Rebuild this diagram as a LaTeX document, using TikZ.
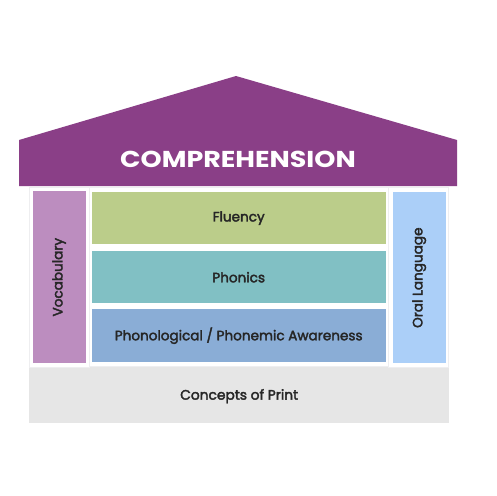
\documentclass[tikz,border=0pt]{standalone}
\usepackage{fontspec}
\setmainfont{Poppins}
\newfontfamily\medfont[FakeBold=2.6]{Poppins}
\begin{document}
\begin{tikzpicture}[x=1pt,y=-1pt,
  box/.style={rectangle,inner sep=0pt,anchor=north west},
  lbl/.style={text=txt,inner sep=0pt,font=\medfont\fontsize{13.6}{15}\selectfont},
]
\definecolor{roofc}{HTML}{8A3F87}
\definecolor{vocab}{HTML}{BC8DBF}
\definecolor{flu}{HTML}{BBCD8A}
\definecolor{phon}{HTML}{81C0C4}
\definecolor{phaw}{HTML}{8AADD6}
\definecolor{oral}{HTML}{ABCFF8}
\definecolor{printc}{HTML}{E6E6E6}
\definecolor{frame}{HTML}{EEEEF0}
\definecolor{txt}{HTML}{262626}
\useasboundingbox[fill=white] (0,0) rectangle (496,496);
% roof
\fill[roofc] (19,186) -- (19,140) -- (236,76) -- (457,140) -- (457,186) -- cycle;
\node[text=white,inner sep=0pt,font=\fontsize{23}{26}\selectfont\bfseries,xscale=1.17] (comp) at (238,159) {COMPREHENSION};
% base
\node[box,fill=printc,minimum width=420pt,minimum height=56pt] (print) at (29,367) {};
\node[lbl,font=\medfont\fontsize{13.8}{16}\selectfont] at ([yshift=-1pt]print.center) {Concepts of Print};
% frames
\draw[frame,line width=1pt] (29.5,187.5) rectangle (89,367);
\draw[frame,line width=1pt] (89,187.5) rectangle (388.5,366);
\draw[frame,line width=1pt] (388.5,187.5) rectangle (448,367);
% pillars
\node[box,fill=vocab,minimum width=53pt,minimum height=172pt] (voc) at (32.5,191) {};
\node[lbl,rotate=90] at (voc.center) {Vocabulary};
\node[box,fill=oral,minimum width=53pt,minimum height=171pt] (oral) at (392.5,192) {};
\node[lbl,rotate=90] at (oral.center) {Oral Language};
% center layers
\node[box,fill=flu,minimum width=294pt,minimum height=52pt] (flu) at (91.5,192) {};
\node[lbl] at (flu.center) {Fluency};
\node[box,fill=phon,minimum width=294pt,minimum height=52pt] (phon) at (91.5,251) {};
\node[lbl] at (phon.center) {Phonics};
\node[box,fill=phaw,minimum width=294pt,minimum height=53pt] (phaw) at (91.5,309) {};
\node[lbl] at (phaw.center) {Phonological / Phonemic Awareness};
\end{tikzpicture}
\end{document}
